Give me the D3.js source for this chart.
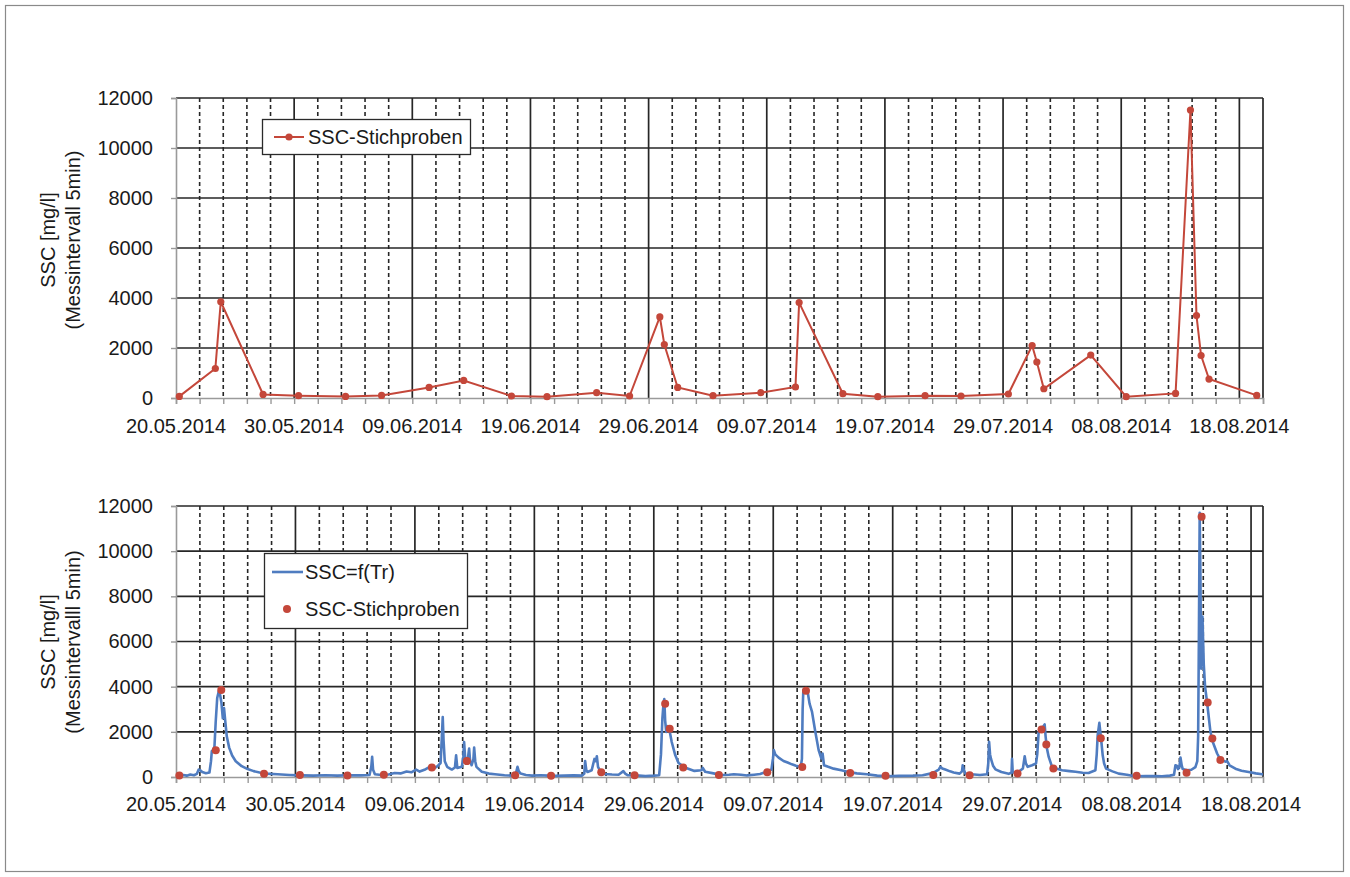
<!DOCTYPE html>
<html>
<head>
<meta charset="utf-8">
<script src="https://cdn.jsdelivr.net/npm/d3@7"></script>
<style>
  html, body { margin: 0; padding: 0; background: #fff; }
  svg { display: block; font-family: "Liberation Sans", Arial, sans-serif; }
</style>
</head>
<body>
<svg id="chart" width="1350" height="877"></svg>
<script>
// ---------------- DATA ----------------
const startDate = "20.05.2014";
const xTickLabels = ["20.05.2014","30.05.2014","09.06.2014","19.06.2014","29.06.2014",
                     "09.07.2014","19.07.2014","29.07.2014","08.08.2014","18.08.2014"];
const yTicks = [0, 2000, 4000, 6000, 8000, 10000, 12000];

// SSC grab samples (days after 20.05.2014 00:00, mg/l)
const sampleDay = [0.28, 3.33, 3.79, 7.37, 10.37, 14.35, 17.4, 21.42, 24.35, 28.39, 31.4, 35.6,
                   38.39, 40.95, 41.33, 42.46, 45.45, 49.5, 52.43, 52.74, 56.44, 59.4, 63.4, 66.44,
                   70.45, 72.46, 72.86, 73.45, 77.42, 80.42, 84.6, 85.86, 86.37, 86.76, 87.43, 91.47];
const sampleSSC = [64, 1180, 3850, 144, 92, 64, 104, 423, 703, 80, 52, 212,
                   80, 3245, 2140, 423, 92, 212, 440, 3817, 172, 52, 92, 80,
                   160, 2100, 1437, 371, 1717, 52, 184, 11521, 3297, 1700, 758, 104];

// SSC = f(Tr), continuous (days after 20.05.2014 00:00, mg/l)
const lineDay = [
  0.0,0.3,0.6,0.9,1.2,1.5,1.75,1.9,2.05,2.2,2.5,2.8,2.93,3.0,3.12,3.22,3.32,3.45,3.58,3.7,3.8,3.92,4.02,4.12,4.25,4.45,4.7,5.0,5.5,6.0,6.5,7.0,7.5,8.5,9.5,10.5,11.5,12.5,13.5,14.5,15.5,16.2,16.35,16.42,16.5,16.65,17.2,17.8,18.3,18.8,19.3,19.7,20.1,20.4,20.8,21.2,21.6,21.9,22.15,22.25,22.33,22.4,22.5,
  22.7,23.09,23.35,23.45,23.55,23.93,24.05,24.12,24.2,24.28,24.43,24.54,24.62,24.75,24.9,24.96,25.05,25.15,25.6,26.2,26.7,27.5,28.1,28.45,28.59,28.7,28.85,29.3,29.8,30.5,31.2,31.8,32.5,33.3,34.0,34.18,34.25,34.35,34.45,34.8,35.03,35.15,35.23,35.33,35.45,35.9,36.5,37.05,37.45,37.6,37.8,38.5,39.3,40.0,40.45,40.6,40.72,40.82,40.88,40.95,41.04,41.15,41.3,41.5,41.8,42.07,42.6,43.4,44.0,44.1,44.3,45.0,45.7,
  46.3,46.7,47.3,47.8,48.4,48.9,49.4,49.85,49.97,50.05,50.17,50.45,50.86,51.2,51.56,51.9,52.3,52.4,52.46,52.52,52.68,52.85,53.04,53.24,53.52,53.8,54.02,54.13,54.25,54.6,55.05,55.7,56.3,57.0,57.85,58.7,59.5,60.5,61.7,62.5,63.15,63.6,63.85,63.99,64.15,64.4,64.8,65.1,65.6,65.8,65.86,65.95,66.08,66.6,67.3,67.9,68.0,68.07,68.15,68.23,68.4,68.6,
  69.1,69.71,69.95,69.99,70.05,70.4,70.6,70.9,71.05,71.15,71.3,71.67,72.0,72.1,72.22,72.5,72.72,72.8,72.9,73.06,73.34,73.7,74.18,74.8,75.3,75.9,76.4,76.97,77.08,77.16,77.3,77.4,77.47,77.58,77.7,77.86,78.4,78.92,79.6,80.3,81.2,82.0,82.55,83.2,83.55,83.67,83.78,83.89,84.0,84.09,84.2,84.28,84.65,85.0,85.34,85.5,85.57,85.63,85.7,85.76,85.82,85.93,86.04,86.15,86.32,86.6,86.79,87.16,87.4,87.58,87.85,88.0,88.2,88.69,89.2,89.8,90.4,90.92,91.0
];
const lineSSC = [
  60,70,90,60,110,80,140,330,290,220,170,200,700,1150,1200,1350,2400,3500,3800,3620,3300,2600,3050,2500,1800,1300,950,700,480,350,260,200,150,120,90,70,60,80,60,80,70,90,450,890,320,120,90,110,180,160,240,210,330,240,320,440,380,480,620,1700,2650,1600,700,
  450,330,420,960,400,450,900,1550,900,740,800,1260,700,520,800,1300,700,450,230,150,120,80,60,150,450,250,150,90,60,80,60,50,60,70,60,150,710,300,220,300,800,700,920,450,330,130,110,100,260,150,80,70,40,60,80,1000,2600,3300,3450,2500,2000,2250,2100,1550,960,620,420,270,300,400,230,160,90,
  100,120,100,70,100,130,220,330,800,1190,1000,860,710,640,560,500,440,800,3000,3850,3930,3860,3250,2900,2000,1190,820,1040,520,450,370,300,220,160,120,60,30,50,60,80,150,250,330,450,380,330,250,200,150,250,520,350,150,120,90,120,600,1560,1000,800,500,340,
  220,140,200,810,200,200,250,380,920,600,450,520,600,1000,2000,2150,2330,1800,1300,890,450,380,300,260,230,190,180,300,1000,1850,2400,1900,1550,960,600,370,250,150,100,30,40,40,30,60,100,520,500,350,450,860,500,350,300,320,440,700,1780,6000,11700,9000,4800,7100,5000,4000,3300,2000,1560,1040,800,740,680,700,520,370,280,220,160,120,110
];

// ---------------- DRAW ----------------
const parse = d3.utcParse("%d.%m.%Y");
const fmt = d3.utcFormat("%d.%m.%Y");
const t0 = parse(startDate);
const dayToDate = d => new Date(t0.getTime() + d * 864e5);

const svg = d3.select("#chart");
svg.append("rect").attr("width", 1350).attr("height", 877).attr("fill", "#fff");
svg.append("rect").attr("x", 5.5).attr("y", 5.5).attr("width", 1338).attr("height", 866)
  .attr("fill", "none").attr("stroke", "#8a8a8a").attr("stroke-width", 1.2);

const GRID = "#262626", AXIS = "#9a9a9a", TXT = "#1a1a1a";
const RED = "#C4473A", BLUE = "#4F7CC0";

function panel(o) {
  const x = d3.scaleUtc().domain([t0, dayToDate(o.endDay)]).range([o.left, o.right]);
  const y = d3.scaleLinear().domain([0, 12000]).range([o.bottom, o.top]);
  const g = svg.append("g");

  const majorDates = xTickLabels.map(parse);
  const minorDays = d3.range(2, o.endDay, 2).filter(d => d % 10 !== 0);

  // dashed minor verticals
  g.selectAll(".minor").data(minorDays).join("line")
    .attr("x1", d => x(dayToDate(d))).attr("x2", d => x(dayToDate(d)))
    .attr("y1", o.top).attr("y2", o.bottom)
    .attr("stroke", GRID).attr("stroke-width", 1.6).attr("stroke-dasharray", "4,3");
  // horizontal grid
  g.selectAll(".hg").data(yTicks.filter(v => v > 0)).join("line")
    .attr("x1", o.left).attr("x2", o.right)
    .attr("y1", d => y(d)).attr("y2", d => y(d))
    .attr("stroke", GRID).attr("stroke-width", 1.7);
  // major verticals
  g.selectAll(".vg").data(majorDates.slice(1)).join("line")
    .attr("x1", d => x(d)).attr("x2", d => x(d))
    .attr("y1", o.top).attr("y2", o.bottom)
    .attr("stroke", GRID).attr("stroke-width", 1.7);
  // right border
  g.append("line").attr("x1", o.right).attr("x2", o.right).attr("y1", o.top).attr("y2", o.bottom)
    .attr("stroke", GRID).attr("stroke-width", 1.7);

  // x axis (gray) with ticks every 2 days
  const xAxisG = g.append("g").attr("transform", `translate(0,${o.bottom})`)
    .call(d3.axisBottom(x).tickValues(d3.range(0, o.endDay + 0.01, 2).map(dayToDate)).tickSize(6).tickFormat(""));
  xAxisG.select(".domain").attr("stroke", AXIS).attr("stroke-width", 1.6);
  xAxisG.selectAll(".tick line").attr("stroke", AXIS).attr("stroke-width", 1.4);
  // x labels
  g.selectAll(".xl").data(majorDates).join("text")
    .attr("x", d => x(d)).attr("y", o.labelY)
    .attr("text-anchor", "middle").attr("font-size", 20).attr("fill", TXT)
    .text(d => fmt(d));

  // y axis
  const yAxisG = g.append("g").attr("transform", `translate(${o.left},0)`)
    .call(d3.axisLeft(y).tickValues(yTicks).tickSize(5).tickPadding(18).tickFormat(d3.format("d")));
  yAxisG.select(".domain").attr("stroke", AXIS).attr("stroke-width", 1.6);
  yAxisG.selectAll(".tick line").attr("stroke", AXIS).attr("stroke-width", 1.4);
  yAxisG.selectAll(".tick text").attr("font-size", 20).attr("fill", TXT)
    .attr("font-family", "'Liberation Sans', Arial, sans-serif");

  // axis titles
  const tt = g.append("g");
  tt.append("text").attr("transform", `translate(48,${o.titleY}) rotate(-90)`)
    .attr("text-anchor", "middle").attr("dy", "0.35em").attr("font-size", 20).attr("fill", TXT)
    .text("SSC [mg/l]");
  tt.append("text").attr("transform", `translate(73,${o.titleY}) rotate(-90)`)
    .attr("text-anchor", "middle").attr("dy", "0.35em").attr("font-size", 20).attr("fill", TXT)
    .text(o.title2);

  // clip
  const cid = "clip" + o.id;
  svg.append("clipPath").attr("id", cid).append("rect")
    .attr("x", o.left - 6).attr("y", o.top - 6).attr("width", o.right - o.left + 6).attr("height", o.bottom - o.top + 12);
  const data = g.append("g").attr("clip-path", `url(#${cid})`);
  return { x, y, g, data };
}

// ---- top panel ----
const P1 = panel({ id: 1, left: 176, right: 1263, top: 98, bottom: 398, endDay: 92, labelY: 433, titleY: 240,
                   title2: "(Messintervall 5min)" });
const samples = sampleDay.map((d, i) => ({ t: dayToDate(d), v: sampleSSC[i] }));
P1.data.append("path").datum(samples)
  .attr("d", d3.line().x(d => P1.x(d.t)).y(d => P1.y(d.v)))
  .attr("fill", "none").attr("stroke", RED).attr("stroke-width", 2);
P1.data.selectAll("circle").data(samples).join("circle")
  .attr("cx", d => P1.x(d.t)).attr("cy", d => P1.y(d.v)).attr("r", 3.6).attr("fill", RED);

// top legend
const L1 = svg.append("g");
L1.append("rect").attr("x", 262.5).attr("y", 119.5).attr("width", 208).attr("height", 35)
  .attr("fill", "#fff").attr("stroke", "#2a2a2a").attr("stroke-width", 1.3);
L1.append("line").attr("x1", 274).attr("x2", 304).attr("y1", 137).attr("y2", 137).attr("stroke", RED).attr("stroke-width", 2);
L1.append("circle").attr("cx", 289).attr("cy", 137).attr("r", 3.6).attr("fill", RED);
L1.append("text").attr("x", 308).attr("y", 144).attr("font-size", 20).attr("fill", TXT).text("SSC-Stichproben");

// ---- bottom panel ----
const P2 = panel({ id: 2, left: 176, right: 1263, top: 506, bottom: 777, endDay: 91, labelY: 811, titleY: 642,
                   title2: "(Messintervalll 5min)" });
const series = lineDay.map((d, i) => ({ t: dayToDate(d), v: lineSSC[i] }));
P2.data.append("path").datum(series)
  .attr("d", d3.line().x(d => P2.x(d.t)).y(d => P2.y(d.v)))
  .attr("fill", "none").attr("stroke", BLUE).attr("stroke-width", 2.6).attr("stroke-linejoin", "round");
P2.data.selectAll("circle").data(samples.filter(d => d.t <= dayToDate(91))).join("circle")
  .attr("cx", d => P2.x(d.t)).attr("cy", d => P2.y(d.v)).attr("r", 4).attr("fill", RED);

// bottom legend
const L2 = svg.append("g");
L2.append("rect").attr("x", 264.5).attr("y", 553.5).attr("width", 203).attr("height", 75)
  .attr("fill", "#fff").attr("stroke", "#2a2a2a").attr("stroke-width", 1.3);
L2.append("line").attr("x1", 272).attr("x2", 303).attr("y1", 572).attr("y2", 572).attr("stroke", BLUE).attr("stroke-width", 2.6);
L2.append("text").attr("x", 305).attr("y", 579).attr("font-size", 20).attr("fill", TXT).text("SSC=f(Tr)");
L2.append("circle").attr("cx", 287).attr("cy", 609).attr("r", 4).attr("fill", RED);
L2.append("text").attr("x", 305).attr("y", 616).attr("font-size", 20).attr("fill", TXT).text("SSC-Stichproben");
</script>
</body>
</html>
